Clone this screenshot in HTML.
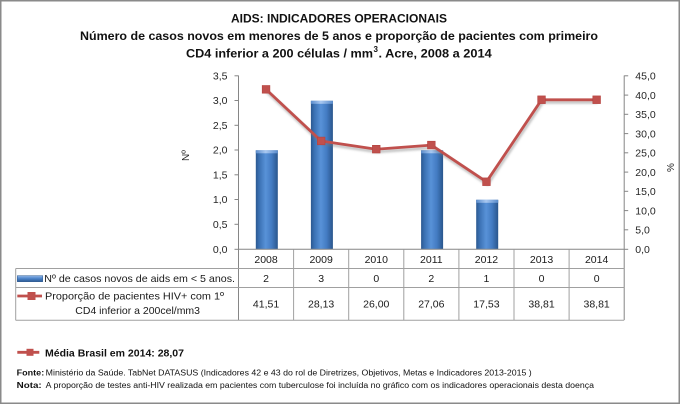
<!DOCTYPE html>
<html><head><meta charset="utf-8"><style>
html,body{margin:0;padding:0;background:#fff;}
svg{display:block;}
text{font-family:"Liberation Sans",sans-serif;}
</style></head><body>
<svg width="680" height="405" viewBox="0 0 680 405" xmlns="http://www.w3.org/2000/svg">
<defs>
<linearGradient id="bar" x1="0" x2="1" y1="0" y2="0">
<stop offset="0" stop-color="#2b5890"/>
<stop offset="0.15" stop-color="#3a70b2"/>
<stop offset="0.45" stop-color="#5892d8"/>
<stop offset="0.72" stop-color="#437bc2"/>
<stop offset="1" stop-color="#2a568c"/>
</linearGradient>
<linearGradient id="cap" x1="0" x2="1" y1="0" y2="0">
<stop offset="0" stop-color="#5a8ccc"/>
<stop offset="0.45" stop-color="#a9c8f0"/>
<stop offset="1" stop-color="#5a8ccc"/>
</linearGradient>
<linearGradient id="leg" x1="0" x2="0" y1="0" y2="1">
<stop offset="0" stop-color="#8db3e6"/>
<stop offset="0.5" stop-color="#4a82c8"/>
<stop offset="1" stop-color="#2b5890"/>
</linearGradient>
<filter id="blur" x="-10%" y="-10%" width="120%" height="120%"><feGaussianBlur stdDeviation="1"/></filter>
</defs>
<rect x="0" y="0" width="680" height="405" fill="#fff"/>
<rect x="0.75" y="0.75" width="678.5" height="402.5" fill="none" stroke="#8a8a8a" stroke-width="1.5"/>

<!-- Titles -->
<text x="231" y="22.7" font-size="12" font-weight="bold" fill="#111" textLength="216" lengthAdjust="spacingAndGlyphs">AIDS: INDICADORES OPERACIONAIS</text>
<text x="80" y="40" font-size="12" font-weight="bold" fill="#111" textLength="518" lengthAdjust="spacingAndGlyphs">Número de casos novos em menores de 5 anos e proporção de pacientes com primeiro</text>
<text x="186" y="57.3" font-size="12" font-weight="bold" fill="#111" textLength="187" lengthAdjust="spacingAndGlyphs">CD4 inferior a 200 células / mm</text>
<text x="373.5" y="52" font-size="8" font-weight="bold" fill="#111">3</text>
<text x="378.5" y="57.3" font-size="12" font-weight="bold" fill="#111" textLength="113.2" lengthAdjust="spacingAndGlyphs">. Acre, 2008 a 2014</text>

<!-- Left axis -->
<g stroke="#868686" stroke-width="1">
<line x1="238.5" y1="75.5" x2="238.5" y2="320"/>
<line x1="234.5" y1="75.8" x2="238.5" y2="75.8"/>
<line x1="234.5" y1="100.5" x2="238.5" y2="100.5"/>
<line x1="234.5" y1="125.3" x2="238.5" y2="125.3"/>
<line x1="234.5" y1="150.0" x2="238.5" y2="150.0"/>
<line x1="234.5" y1="174.8" x2="238.5" y2="174.8"/>
<line x1="234.5" y1="199.5" x2="238.5" y2="199.5"/>
<line x1="234.5" y1="224.3" x2="238.5" y2="224.3"/>
<line x1="234.5" y1="249.3" x2="238.5" y2="249.3"/>
<!-- right axis -->
<line x1="624.2" y1="75.5" x2="624.2" y2="320"/>
<line x1="624.2" y1="75.8" x2="628.2" y2="75.8"/>
<line x1="624.2" y1="95.1" x2="628.2" y2="95.1"/>
<line x1="624.2" y1="114.3" x2="628.2" y2="114.3"/>
<line x1="624.2" y1="133.6" x2="628.2" y2="133.6"/>
<line x1="624.2" y1="152.8" x2="628.2" y2="152.8"/>
<line x1="624.2" y1="172.1" x2="628.2" y2="172.1"/>
<line x1="624.2" y1="191.3" x2="628.2" y2="191.3"/>
<line x1="624.2" y1="210.6" x2="628.2" y2="210.6"/>
<line x1="624.2" y1="229.8" x2="628.2" y2="229.8"/>
<line x1="624.2" y1="249.3" x2="628.2" y2="249.3"/>
</g>
<g font-size="10.5" fill="#262626" text-anchor="end">
<text x="227.5" y="79.5">3,5</text>
<text x="227.5" y="104.2">3,0</text>
<text x="227.5" y="129">2,5</text>
<text x="227.5" y="153.7">2,0</text>
<text x="227.5" y="178.5">1,5</text>
<text x="227.5" y="203.2">1,0</text>
<text x="227.5" y="228">0,5</text>
<text x="227.5" y="253">0,0</text>
</g>
<g font-size="10.5" fill="#262626" text-anchor="start">
<text x="635.3" y="79.5">45,0</text>
<text x="635.3" y="98.8">40,0</text>
<text x="635.3" y="118">35,0</text>
<text x="635.3" y="137.3">30,0</text>
<text x="635.3" y="156.5">25,0</text>
<text x="635.3" y="175.8">20,0</text>
<text x="635.3" y="195">15,0</text>
<text x="635.3" y="214.3">10,0</text>
<text x="635.3" y="233.5">5,0</text>
<text x="635.3" y="253">0,0</text>
</g>
<text transform="translate(189,155.5) rotate(-90)" font-size="10" fill="#262626" text-anchor="middle">Nº</text>
<text transform="translate(674,167.5) rotate(-90)" font-size="10" fill="#262626" text-anchor="middle">%</text>

<!-- Bars -->
<g>
<rect x="255.8" y="150.3" width="22" height="99" fill="url(#bar)"/>
<rect x="255.8" y="150.3" width="22" height="3" fill="url(#cap)"/>
<rect x="310.9" y="100.8" width="22" height="148.5" fill="url(#bar)"/>
<rect x="310.9" y="100.8" width="22" height="3" fill="url(#cap)"/>
<rect x="421.1" y="150.3" width="22" height="99" fill="url(#bar)"/>
<rect x="421.1" y="150.3" width="22" height="3" fill="url(#cap)"/>
<rect x="476.2" y="199.8" width="22" height="49.5" fill="url(#bar)"/>
<rect x="476.2" y="199.8" width="22" height="3" fill="url(#cap)"/>
</g>

<!-- Line shadow -->
<polyline points="266.05,89.4 321.15,141 376.25,149.2 431.35,145.1 486.45,181.8 541.55,99.8 596.65,99.8" fill="none" stroke="#7a7a7a" stroke-opacity="0.45" stroke-width="3" transform="translate(1,2.5)" filter="url(#blur)"/>
<polyline points="266.05,89.4 321.15,141 376.25,149.2 431.35,145.1 486.45,181.8 541.55,99.8 596.65,99.8" fill="none" stroke="#c0504d" stroke-width="2.8" stroke-linejoin="round"/>
<g fill="#c0504d" stroke="#b5423f" stroke-width="0.6">
<rect x="262.2" y="85.5" width="7.7" height="7.7"/>
<rect x="317.3" y="137.1" width="7.7" height="7.7"/>
<rect x="372.4" y="145.3" width="7.7" height="7.7"/>
<rect x="427.5" y="141.2" width="7.7" height="7.7"/>
<rect x="482.6" y="177.9" width="7.7" height="7.7"/>
<rect x="537.7" y="95.9" width="7.7" height="7.7"/>
<rect x="592.8" y="95.9" width="7.7" height="7.7"/>
</g>

<!-- Table -->
<g stroke="#a0a0a0" stroke-width="1" fill="none">
<line x1="238.5" y1="249.3" x2="624.2" y2="249.3" stroke="#868686"/>
<line x1="15.7" y1="268.5" x2="624.2" y2="268.5"/>
<line x1="15.7" y1="287.5" x2="624.2" y2="287.5"/>
<line x1="15.7" y1="320.3" x2="624.2" y2="320.3"/>
<line x1="15.7" y1="268.5" x2="15.7" y2="320.3"/>
<line x1="293.6" y1="249.3" x2="293.6" y2="320.3"/>
<line x1="348.7" y1="249.3" x2="348.7" y2="320.3"/>
<line x1="403.8" y1="249.3" x2="403.8" y2="320.3"/>
<line x1="458.9" y1="249.3" x2="458.9" y2="320.3"/>
<line x1="514" y1="249.3" x2="514" y2="320.3"/>
<line x1="569.1" y1="249.3" x2="569.1" y2="320.3"/>
</g>
<g font-size="10.5" fill="#1a1a1a" text-anchor="middle">
<text x="266.05" y="263">2008</text>
<text x="321.15" y="263">2009</text>
<text x="376.25" y="263">2010</text>
<text x="431.35" y="263">2011</text>
<text x="486.45" y="263">2012</text>
<text x="541.55" y="263">2013</text>
<text x="596.65" y="263">2014</text>
<text x="266.05" y="282">2</text>
<text x="321.15" y="282">3</text>
<text x="376.25" y="282">0</text>
<text x="431.35" y="282">2</text>
<text x="486.45" y="282">1</text>
<text x="541.55" y="282">0</text>
<text x="596.65" y="282">0</text>
<text x="266.05" y="307.7">41,51</text>
<text x="321.15" y="307.7">28,13</text>
<text x="376.25" y="307.7">26,00</text>
<text x="431.35" y="307.7">27,06</text>
<text x="486.45" y="307.7">17,53</text>
<text x="541.55" y="307.7">38,81</text>
<text x="596.65" y="307.7">38,81</text>
</g>
<!-- row labels -->
<rect x="17.3" y="275.7" width="25.4" height="6" fill="url(#leg)" stroke="#2b5890" stroke-width="0.5"/>
<text x="44.3" y="282" font-size="10.5" fill="#1a1a1a" textLength="190.7" lengthAdjust="spacingAndGlyphs">Nº de casos novos de aids em &lt; 5 anos.</text>
<line x1="17.3" y1="296" x2="42" y2="296" stroke="#c0504d" stroke-width="2.8"/>
<rect x="27.5" y="292" width="8" height="8" fill="#c0504d"/>
<text x="45" y="299.7" font-size="10.5" fill="#1a1a1a" textLength="179" lengthAdjust="spacingAndGlyphs">Proporção de pacientes HIV+ com 1º</text>
<text x="75.3" y="314" font-size="10.5" fill="#1a1a1a" textLength="124.7" lengthAdjust="spacingAndGlyphs">CD4 inferior a 200cel/mm3</text>

<!-- Média Brasil legend -->
<line x1="17.3" y1="352.3" x2="39.3" y2="352.3" stroke="#c0504d" stroke-width="2.8"/>
<rect x="26.5" y="348.8" width="7" height="7" fill="#c0504d"/>
<text x="45" y="356.4" font-size="10.5" font-weight="bold" fill="#111" textLength="139" lengthAdjust="spacingAndGlyphs">Média Brasil em 2014: 28,07</text>

<!-- Notes -->
<text x="16.7" y="375.3" font-size="8" font-weight="bold" fill="#111" textLength="27.5" lengthAdjust="spacingAndGlyphs">Fonte:</text>
<text x="45.7" y="375.3" font-size="8" fill="#111" textLength="486" lengthAdjust="spacingAndGlyphs">Ministério da Saúde. TabNet DATASUS (Indicadores  42 e 43 do rol de Diretrizes, Objetivos, Metas e Indicadores 2013-2015 )</text>
<text x="16.7" y="388" font-size="8" font-weight="bold" fill="#111" textLength="25" lengthAdjust="spacingAndGlyphs">Nota:</text>
<text x="45.7" y="388" font-size="8" fill="#111" textLength="548.3" lengthAdjust="spacingAndGlyphs">A proporção de testes anti-HIV realizada em pacientes com tuberculose foi incluída no gráfico com os indicadores operacionais desta doença</text>
</svg>
</body></html>
